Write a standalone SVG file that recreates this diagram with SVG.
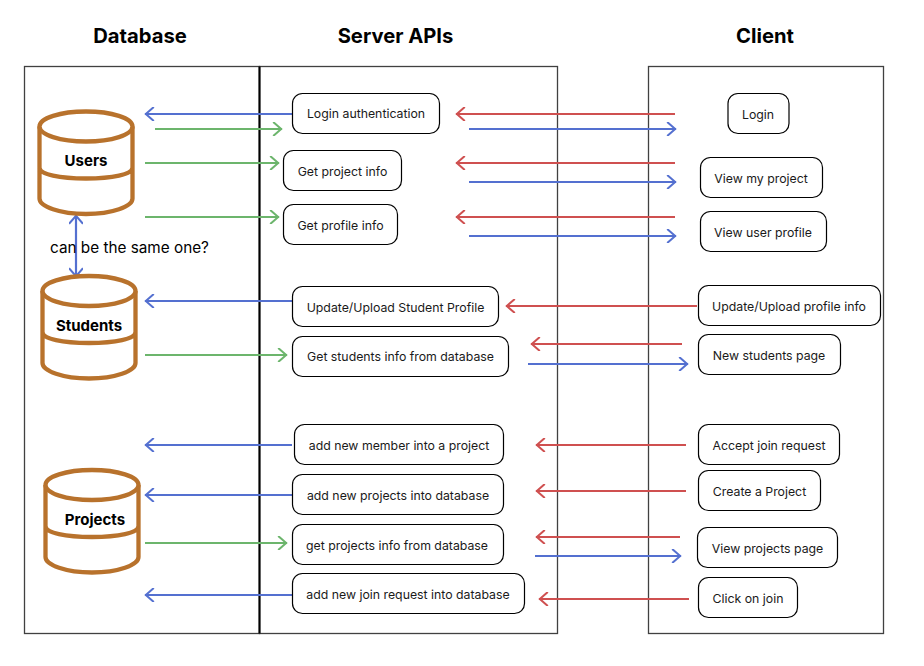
<svg xmlns="http://www.w3.org/2000/svg" width="924" height="666" viewBox="0 0 924 666">
<defs>
<marker id="ab" viewBox="-10 -7 12 14" markerWidth="12" markerHeight="14" refX="0.800" refY="0" orient="auto-start-reverse" markerUnits="userSpaceOnUse"><path d="M-8,-7 L0,0 L-8,7" fill="none" stroke="context-stroke" stroke-width="2"/></marker>
<g id="cyl"><path d="M1.5,15 V87 C1.5,95 22,102.500 48,102.500 C74,102.500 94.500,95 94.500,87 V15 M1.500,56 C1.500,63 22,67 48,67 C74,67 94.500,63 94.500,56"/><ellipse cx="48" cy="15" rx="46.500" ry="15"/></g>
</defs>
<style>
text{font-family:Inter,"Noto Sans","Liberation Sans",sans-serif;fill:#000}
.h{font-size:20.200px;font-weight:700;text-anchor:middle}
.n{font-size:12.300px;text-anchor:middle;dominant-baseline:central;fill:#1a1a1a}
.d{font-size:15px;font-weight:700;text-anchor:middle;dominant-baseline:central}
.b{fill:#fff;stroke:#000;stroke-width:1.200}
.c{fill:#fff;stroke:#b8722c;stroke-width:4.300}
.p{fill:none;stroke:#404040;stroke-width:1.300}
.a{fill:none;stroke-width:2.200;marker-end:url(#ab)}
.bl{stroke:#5470d0}.gr{stroke:#6cb56c}.rd{stroke:#cf5050}
</style>
<rect width="924" height="666" fill="#fff"/>
<g id="titles"><text class="h" x="140" y="43">Database</text><text class="h" x="395.500" y="43">Server APIs</text><text class="h" x="765" y="43">Client</text></g>
<g id="panels">
<rect class="p" x="24.500" y="66.500" width="235" height="567"/>
<rect class="p" x="259.500" y="66.500" width="298" height="567"/>
<rect class="p" x="648.500" y="66.500" width="235" height="567"/>
<path d="M259.500,66.500V633.500" stroke="#000" stroke-width="2"/>
</g>
<g id="connectors">
<path class="a bl" d="M292,114H145"/><path class="a gr" d="M155,129H282"/>
<path class="a gr" d="M145,163H279"/><path class="a gr" d="M145,217H279"/>
<path class="a bl" d="M76,215V277" marker-start="url(#ab)"/>
<path class="a bl" d="M292,301H145"/><path class="a gr" d="M145,355H287"/>
<path class="a bl" d="M292,445H145"/><path class="a bl" d="M292,495H145"/>
<path class="a gr" d="M145,543H287"/><path class="a bl" d="M292,595H145"/>
<path class="a rd" d="M675,114H456"/><path class="a bl" d="M469,129H676"/>
<path class="a rd" d="M675,163H456"/><path class="a bl" d="M469,182H676"/>
<path class="a rd" d="M675,217H456"/><path class="a bl" d="M469,236H676"/>
<path class="a rd" d="M697,306H506"/><path class="a rd" d="M682,344H531"/><path class="a bl" d="M528,364H688"/>
<path class="a rd" d="M686,445H536"/><path class="a rd" d="M686,491H536"/>
<path class="a rd" d="M680,537H536"/><path class="a bl" d="M535,556H681"/><path class="a rd" d="M689,599H539"/>
</g>
<g id="db-users"><use href="#cyl" class="c" x="38" y="111.500"/><text class="d" x="86" y="160.500">Users</text></g>
<g id="db-students"><use href="#cyl" class="c" x="41" y="276"/><text class="d" x="89" y="325">Students</text></g>
<g id="db-projects"><use href="#cyl" class="c" x="44" y="470"/><text class="d" x="95" y="519">Projects</text></g>
<g id="note"><text x="50" y="253" font-size="15.300">can be the same one?</text></g>
<g id="n1"><rect class="b" x="292.500" y="93.500" width="147" height="40" rx="10"/><text class="n" x="366" y="113.500">Login authentication</text></g>
<g id="n2"><rect class="b" x="283.500" y="150.500" width="118" height="40" rx="10"/><text class="n" x="342.500" y="171">Get project info</text></g>
<g id="n3"><rect class="b" x="283.500" y="204.500" width="114" height="40" rx="10"/><text class="n" x="340.500" y="225">Get profile info</text></g>
<g id="n4"><rect class="b" x="292.500" y="286.500" width="206" height="40" rx="10"/><text class="n" x="395.500" y="307">Update/Upload Student Profile</text></g>
<g id="n5"><rect class="b" x="292.500" y="336.500" width="216" height="40" rx="10"/><text class="n" x="400.500" y="356.500">Get students info from database</text></g>
<g id="n6"><rect class="b" x="294.500" y="424.500" width="209" height="40" rx="10"/><text class="n" x="399" y="445">add new member into a project</text></g>
<g id="n7"><rect class="b" x="292.500" y="474.500" width="211" height="40" rx="10"/><text class="n" x="398" y="495">add new projects into database</text></g>
<g id="n8"><rect class="b" x="292.500" y="524.500" width="211" height="40" rx="10"/><text class="n" x="397" y="545">get projects info from database</text></g>
<g id="n9"><rect class="b" x="292.500" y="573.500" width="232" height="40" rx="10"/><text class="n" x="408" y="594">add new join request into database</text></g>
<g id="c1"><rect class="b" x="728" y="93.500" width="61" height="40" rx="10"/><text class="n" x="758" y="114">Login</text></g>
<g id="c2"><rect class="b" x="700.500" y="157.500" width="122" height="40" rx="10"/><text class="n" x="761" y="178">View my project</text></g>
<g id="c3"><rect class="b" x="700.500" y="211.500" width="126" height="40" rx="10"/><text class="n" x="763" y="232">View user profile</text></g>
<g id="c4"><rect class="b" x="698.500" y="285.500" width="182" height="40" rx="10"/><text class="n" x="789" y="306">Update/Upload profile info</text></g>
<g id="c5"><rect class="b" x="698.500" y="334.500" width="142" height="40" rx="10"/><text class="n" x="769" y="355">New students page</text></g>
<g id="c6"><rect class="b" x="698.500" y="424.500" width="141" height="40" rx="10"/><text class="n" x="769" y="445">Accept join request</text></g>
<g id="c7"><rect class="b" x="698.500" y="470.500" width="122" height="40" rx="10"/><text class="n" x="759.500" y="491">Create a Project</text></g>
<g id="c8"><rect class="b" x="697.500" y="527.500" width="140" height="40" rx="10"/><text class="n" x="767.500" y="548">View projects page</text></g>
<g id="c9"><rect class="b" x="698.500" y="577.500" width="99" height="40" rx="10"/><text class="n" x="748" y="598">Click on join</text></g>
</svg>
